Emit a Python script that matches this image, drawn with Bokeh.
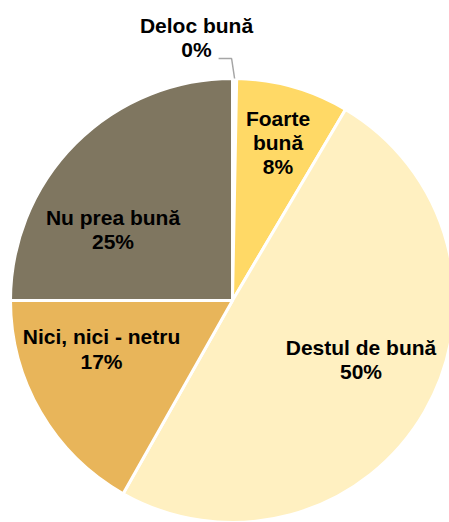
import math
from bokeh.plotting import figure
from bokeh.models import Range1d, ColumnDataSource
from bokeh.core.properties import value
from bokeh.embed import file_html
from bokeh.resources import INLINE

# ---- data ----
categories = ["Deloc bună", "Foarte bună", "Destul de bună", "Nici, nici - netru", "Nu prea bună"]
shares = [0.3, 8.2, 49.7, 16.8, 25.0]
label_names = ["Deloc bună", "Foarte\nbună", "Destul de bună", "Nici, nici - netru", "Nu prea bună"]
colors = ["#FFFFFF", "#FFD966", "#FFF0C1", "#E8B55A", "#7F7660"]

# ---- layout (pixels) ----
W, H = 449, 522
CX, CY, R = 232, 222, 222
# label centres (x, y) in plot pixels from bottom-left
label_pos = [(196, 485), (277.5, 380), (360.5, 163), (101, 173.5), (112.5, 293)]

p = figure(width=W, height=H, output_backend="svg", toolbar_location=None,
           x_range=Range1d(0, W), y_range=Range1d(0, H), min_border=0)
p.axis.visible = False
p.grid.visible = False
p.outline_line_color = None
p.background_fill_color = "white"
p.border_fill_color = "white"

total = sum(shares)
starts, ends = [], []
cum = 0.0
for s in shares:
    a0 = math.pi / 2 - 2 * math.pi * cum / total
    cum += s
    a1 = math.pi / 2 - 2 * math.pi * cum / total
    starts.append(a0)
    ends.append(a1)

src = ColumnDataSource(dict(cat=categories, start=starts, end=ends, color=colors))
p.wedge(x=CX, y=CY, radius=R, start_angle="start", end_angle="end", direction="clock",
        fill_color="color", line_color="white", line_width=3, source=src)

# leader line for the tiny slice
mid0 = (starts[0] + ends[0]) / 2
sx = CX + R * math.cos(mid0)
sy = CY + R * math.sin(mid0)
p.line([sx, sx - 3, sx - 16], [sy, sy + 20, sy + 20], line_color="#A6A6A6", line_width=1.5)

texts = [f"{n}\n{round(s)}%" for n, s in zip(label_names, shares)]
lsrc = ColumnDataSource(dict(x=[q[0] for q in label_pos], y=[q[1] for q in label_pos], t=texts))
p.text(x="x", y="y", text="t", source=lsrc, text_align="center", text_baseline="middle",
       text_font=value("Liberation Sans"), text_font_style="bold", text_font_size="21px",
       text_color="black", text_line_height=1.05)

open("out.html", "w").write(file_html(p, INLINE))
